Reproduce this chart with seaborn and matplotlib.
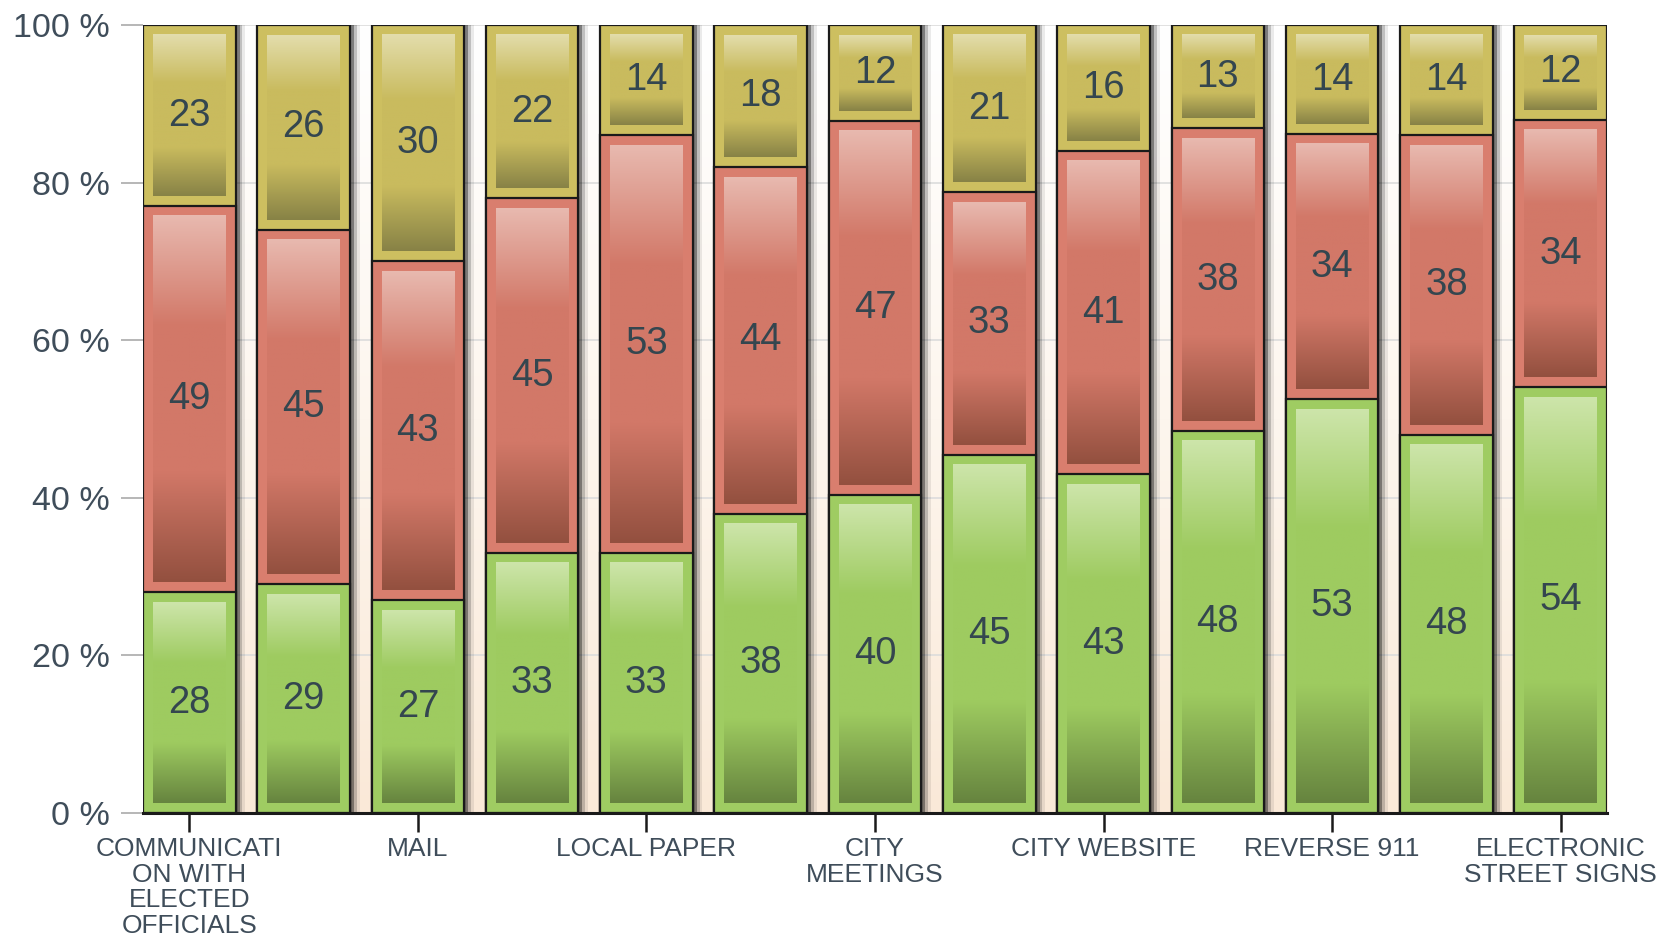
import numpy as np
import pandas as pd
import matplotlib
matplotlib.use("Agg")
import matplotlib.pyplot as plt
from matplotlib.colors import LinearSegmentedColormap
import seaborn as sns

# ---- data ----
categories = ["COMMUNICATION WITH ELECTED OFFICIALS", "bar 2", "MAIL", "bar 4", "LOCAL PAPER",
              "bar 6", "CITY MEETINGS", "bar 8", "CITY WEBSITE", "bar 10", "REVERSE 911",
              "bar 12", "ELECTRONIC STREET SIGNS"]
tick_labels = ["COMMUNICATI\nON WITH\nELECTED\nOFFICIALS", "MAIL", "LOCAL PAPER",
               "CITY\nMEETINGS", "CITY WEBSITE", "REVERSE 911", "ELECTRONIC\nSTREET SIGNS"]
green_vals = [28, 29, 27, 33, 33, 38, 40, 45, 43, 48, 53, 48, 54]
red_vals = [49, 45, 43, 45, 53, 44, 47, 33, 41, 38, 34, 38, 34]
yellow_vals = [23, 26, 30, 22, 14, 18, 12, 21, 16, 13, 14, 14, 12]
y_ticks = [0, 20, 40, 60, 80, 100]

sns.set_theme(style="white")
plt.rcParams['font.family'] = ['Liberation Sans', 'DejaVu Sans']

g = np.array(green_vals, float)
r = np.array(red_vals, float)
yv = np.array(yellow_vals, float)
tot = g + r + yv
gp = g / tot * 100
rp = r / tot * 100
yp = yv / tot * 100
c1 = gp
c2 = gp + rp
c3 = c2 + yp

df = pd.DataFrame({"cat": categories, "c1": c1, "c2": c2, "c3": c3})

fig = plt.figure(figsize=(16.69, 9.48), dpi=100)
ax = fig.add_axes([143/1669, 1-813/948, 1464/1669, 788/948])

BW = 0.81
xlim = (-BW/2, len(categories) - 1 + BW/2)

# background gradient
bg = LinearSegmentedColormap.from_list("bg", ["#fae9d8", "#fdf6ee", "#ffffff"])
ax.imshow(np.linspace(0, 1, 256).reshape(-1, 1), extent=[xlim[0], xlim[1], 0, 100],
          origin="lower", aspect="auto", cmap=bg, zorder=0)

ax.set_axisbelow(True)
ax.yaxis.grid(True, color="#dcdcdc", linewidth=1.2)

# shadows
for k, a in [(0.035, 0.35), (0.06, 0.18), (0.085, 0.08)]:
    ax.bar(np.arange(len(categories)) + k, df["c3"], width=BW, color="black", alpha=a,
           linewidth=0, zorder=1)

colors = {"c3": "#cdbf60", "c2": "#d97e6e", "c1": "#9fcc62"}
for col in ["c3", "c2", "c1"]:
    sns.barplot(data=df, x="cat", y=col, order=categories, color=colors[col],
                saturation=1, edgecolor="#1a1a1a", linewidth=1.6, width=BW, ax=ax, zorder=2)

cmaps = {
    "g": LinearSegmentedColormap.from_list("g", [(0, "#66843f"), (0.3, "#9ecb60"), (0.7, "#9ecb60"), (1, "#cde5aa")]),
    "r": LinearSegmentedColormap.from_list("r", [(0, "#93503f"), (0.3, "#d27868"), (0.7, "#d27868"), (1, "#e8b9af")]),
    "y": LinearSegmentedColormap.from_list("y", [(0, "#878246"), (0.3, "#c9bb5e"), (0.7, "#c9bb5e"), (1, "#e3ddac")]),
}
px_x = 1464 / (xlim[1] - xlim[0])
px_y = 788 / 100
ix = 10 / px_x
iy = 10 / px_y
grad = np.linspace(0, 1, 256).reshape(-1, 1)
txtcol = "#34464f"
for i in range(len(categories)):
    segs = [(0, c1[i], "g", green_vals[i]), (c1[i], c2[i], "r", red_vals[i]), (c2[i], c3[i], "y", yellow_vals[i])]
    for lo, hi, key, val in segs:
        if hi - lo > 2 * iy:
            ax.imshow(grad, extent=[i - BW/2 + ix, i + BW/2 - ix, lo + iy, hi - iy],
                      origin="lower", aspect="auto", cmap=cmaps[key], zorder=3)
        ax.text(i, (lo + hi) / 2, str(val), ha="center", va="center", fontsize=27.5,
                color=txtcol, zorder=4)

ax.set_xlim(*xlim)
ax.set_ylim(0, 100)
ax.set_xlabel("")
ax.set_ylabel("")
ax.set_xticks(range(0, len(categories), 2))
ax.set_xticklabels(tick_labels, fontsize=19, color="#3f4d5a", linespacing=1.1)
ax.set_yticks(y_ticks)
ax.set_yticklabels([f"{v} %" for v in y_ticks], fontsize=24.5, color="#3f4d5a")
ax.tick_params(axis="x", length=14, width=1.8, color="#1a1a1a", pad=3, bottom=True)
ax.tick_params(axis="y", length=16, width=1.2, color="#aaaaaa", pad=8, left=True)
for s in ["left", "top", "right"]:
    ax.spines[s].set_visible(False)
ax.spines["bottom"].set_color("#1a1a1a")
ax.spines["bottom"].set_linewidth(2.2)
ax.spines["bottom"].set_zorder(5)

fig.savefig("out.png", dpi=100, facecolor="white")
